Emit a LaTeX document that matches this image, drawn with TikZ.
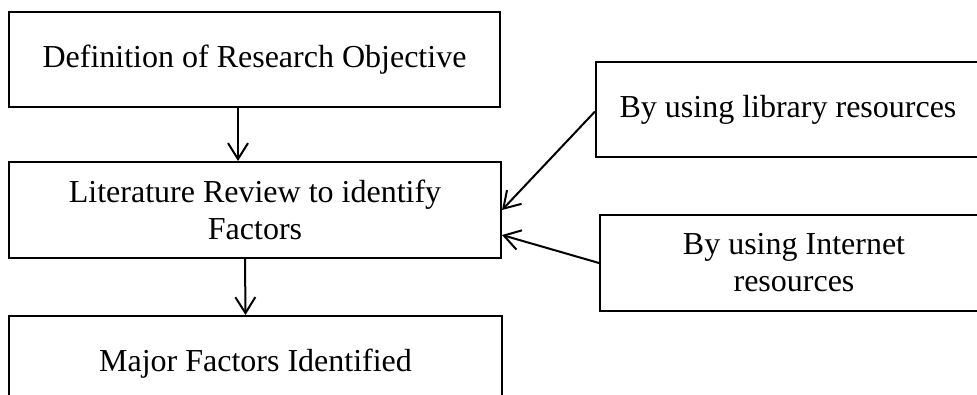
\documentclass[tikz,border=0pt]{standalone}
\usepackage{fontspec}
\setmainfont{Liberation Serif}
\usetikzlibrary{arrows.meta}
\tikzset{
  box/.style={draw, line width=2pt, align=center, inner sep=0pt, font=\fontsize{32}{37}\selectfont},
  flow/.style={-{Straight Barb[length=16pt,width=20pt,line width=2pt]}, line width=2pt}
}
\begin{document}
\begin{tikzpicture}[x=1pt, y=-1pt]
\useasboundingbox (0,0) rectangle (977,394);
\clip (0,0) rectangle (977,394);
\node[box, minimum width=491pt, minimum height=95pt] (objective) at (254.5,59.5) {Definition of Research Objective};
\node[box, minimum width=492pt, minimum height=96pt] (review) at (255,210) {Literature Review to identify\\Factors};
\node[box, minimum width=493pt, minimum height=96pt] (factors) at (255.5,364) {Major Factors Identified};
\node[box, minimum width=384pt, minimum height=95pt] (library) at (788,109.5) {By using library resources};
\node[box, minimum width=388pt, minimum height=96pt] (internet) at (794,263) {By using Internet\\resources};
\draw[flow] ([xshift=-16.5pt]objective.south) -- ([xshift=-17pt]review.north);
\draw[flow] ([xshift=-10pt]review.south) -- ([xshift=-10pt]factors.north);
\draw[flow] ([yshift=-2pt]library.west) -- (review.east);
\draw[flow] (internet.west) -- ([yshift=-25pt]review.east);
\end{tikzpicture}
\end{document}
